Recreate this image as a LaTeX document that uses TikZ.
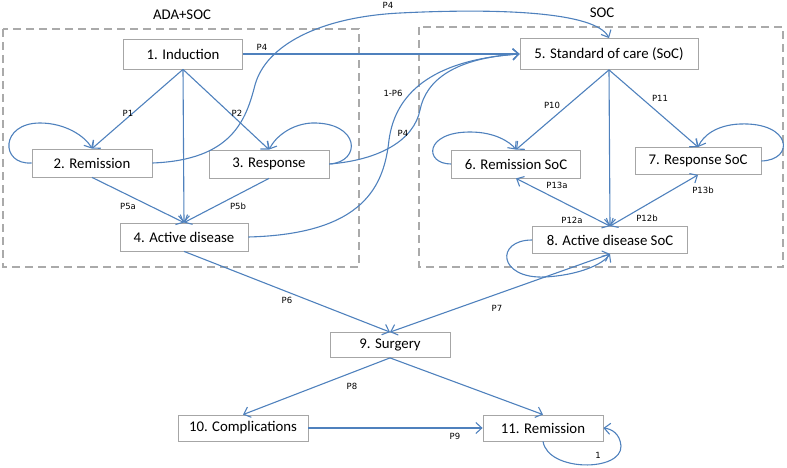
\documentclass[tikz,border=0pt]{standalone}
\usepackage{fontspec}
\setmainfont{Carlito}
\newfontfamily\lblfont{DejaVu Sans}
\usetikzlibrary{arrows.meta}
\definecolor{arrowblue}{RGB}{79,129,189}
\definecolor{boxgray}{RGB}{166,166,166}
\definecolor{framegray}{RGB}{170,170,170}
\begin{document}
\begin{tikzpicture}[x=1pt,y=-1pt,
  box/.style={draw=boxgray, line width=0.8pt, fill=white, inner sep=0pt, font=\fontsize{14.8}{17}\selectfont},
  frame/.style={draw=framegray, line width=1.6pt, dash pattern=on 8pt off 5pt},
  link/.style={draw=arrowblue, line width=1.1pt, -{Straight Barb[length=6pt,width=11pt]}},
  dlink/.style={draw=arrowblue, line width=1.1pt, {Straight Barb[length=6pt,width=11pt]}-{Straight Barb[length=6pt,width=11pt]}},
  lbl/.style={font=\lblfont\fontsize{8.5}{10}\selectfont, inner sep=0pt},
  ttl/.style={font=\fontsize{14.8}{17}\selectfont, inner sep=0pt}]
\useasboundingbox (0,0) rectangle (787,468);

% frames
\draw[frame] (3,29) rectangle (359,267);
\draw[frame] (419,27) rectangle (783,267);
\node[ttl] (tada) at (182,15) {ADA+SOC};
\node[ttl] (tsoc) at (602,13) {SOC};

% boxes
\node[box, minimum width=119pt, minimum height=30pt] (n1) at (183,54) {1. Induction};
\node[box, minimum width=120pt, minimum height=28pt] (n2) at (92,163) {2. Remission};
\node[box, minimum width=120pt, minimum height=28pt] (n3) at (269,164) {3. Response};
\node[box, minimum width=128pt, minimum height=28pt] (n4) at (184,237) {4. Active disease};
\node[box, minimum width=178pt, minimum height=31pt] (n5) at (609,54) {5. Standard of care (SoC)};
\node[box, minimum width=129pt, minimum height=28pt] (n6) at (516,164) {6. Remission SoC};
\node[box, minimum width=126pt, minimum height=27pt] (n7) at (698,161) {7. Response SoC};
\node[box, minimum width=155pt, minimum height=27pt] (n8) at (610,240) {8. Active disease SoC};
\node[box, minimum width=120pt, minimum height=25pt] (n9) at (390,345) {9. Surgery};
\node[box, minimum width=130pt, minimum height=26pt] (n10) at (243,428) {10. Complications};
\node[box, minimum width=120pt, minimum height=26pt] (n11) at (543,428) {11. Remission};

% straight connectors
\draw[link] (n1.south) -- (n2.north);
\draw[link] (n1.south) -- (n3.north);
\draw[link] (n1.south) -- (n4.north);
\draw[link] (n1.east) -- (n5.west);
\draw[link] (n2.south) -- (n4.north);
\draw[link] (n3.south) -- (n4.north);
\draw[link] (n5.south) -- (n6.north);
\draw[link] (n5.south) -- (n7.north);
\draw[link] (n5.south) -- (n8.north);
\draw[dlink] (n6.south) -- (n8.north);
\draw[dlink] (n7.south) -- (n8.north);
\draw[link] (n4.south) -- (n9.north);
\draw[dlink] (n9.north) -- (n8.south);
\draw[link] (n9.south) -- (n10.north);
\draw[link] (n9.south) -- (n11.north);
\draw[link] (n10.east) -- (n11.west);

% self loops
\draw[link] (n2.west) .. controls (0,165) and (0,123) .. (40,123) .. controls (65,123) and (85,136) .. (n2.north);
\draw[link] (n3.east) .. controls (362,162) and (360,122) .. (312,123) .. controls (292,124) and (276,136) .. (n3.north);
\draw[link] (n6.west) .. controls (424,164) and (424,132) .. (470,132) .. controls (495,132) and (510,142) .. (n6.north);
\draw[link] (n7.east) .. controls (795,160) and (792,122) .. (740,124) .. controls (716,125) and (703,136) .. (n7.north);
\draw[link] (n8.west) .. controls (495,240) and (498,279) .. (545,277) .. controls (580,275) and (603,264) .. (n8.south);
\draw[link] (n11.south) .. controls (548,472) and (622,472) .. (621,446) .. controls (620,434) and (612,429) .. (n11.east);

% long curves
\draw[link] (n2.east) .. controls (232,160) and (246,120) .. (255,85) .. controls (266,45) and (320,17) .. (400,13) .. controls (500,8) and (596,12) .. (n5.north);
\draw[link] (n3.east) .. controls (380,160) and (414,140) .. (420,110) .. controls (426,80) and (455,58) .. (n5.west);
\draw[link] (n4.east) .. controls (365,234) and (384,185) .. (389,140) .. controls (395,95) and (430,60) .. (n5.west);

% labels
\node[lbl] (lp4a) at (262,47) {P4};
\node[lbl] (lp4b) at (388,5) {P4};
\node[lbl] (lp4c) at (403,133) {P4};
\node[lbl] (lp16) at (393,93) {1-P6};
\node[lbl] (lp1) at (128,113) {P1};
\node[lbl] (lp2) at (237,113) {P2};
\node[lbl] (lp5a) at (128,206) {P5a};
\node[lbl] (lp5b) at (238,206) {P5b};
\node[lbl] (lp10) at (552,105) {P10};
\node[lbl] (lp11) at (660,98) {P11};
\node[lbl] (lp13a) at (557,185) {P13a};
\node[lbl] (lp12a) at (572,220) {P12a};
\node[lbl] (lp12b) at (647,218) {P12b};
\node[lbl] (lp13b) at (703,190) {P13b};
\node[lbl] (lp6) at (287,300) {P6};
\node[lbl] (lp7) at (497,308) {P7};
\node[lbl] (lp8) at (352,386) {P8};
\node[lbl] (lp9) at (455,436) {P9};
\node[lbl] (lone) at (598,455) {1};
\end{tikzpicture}
\end{document}
